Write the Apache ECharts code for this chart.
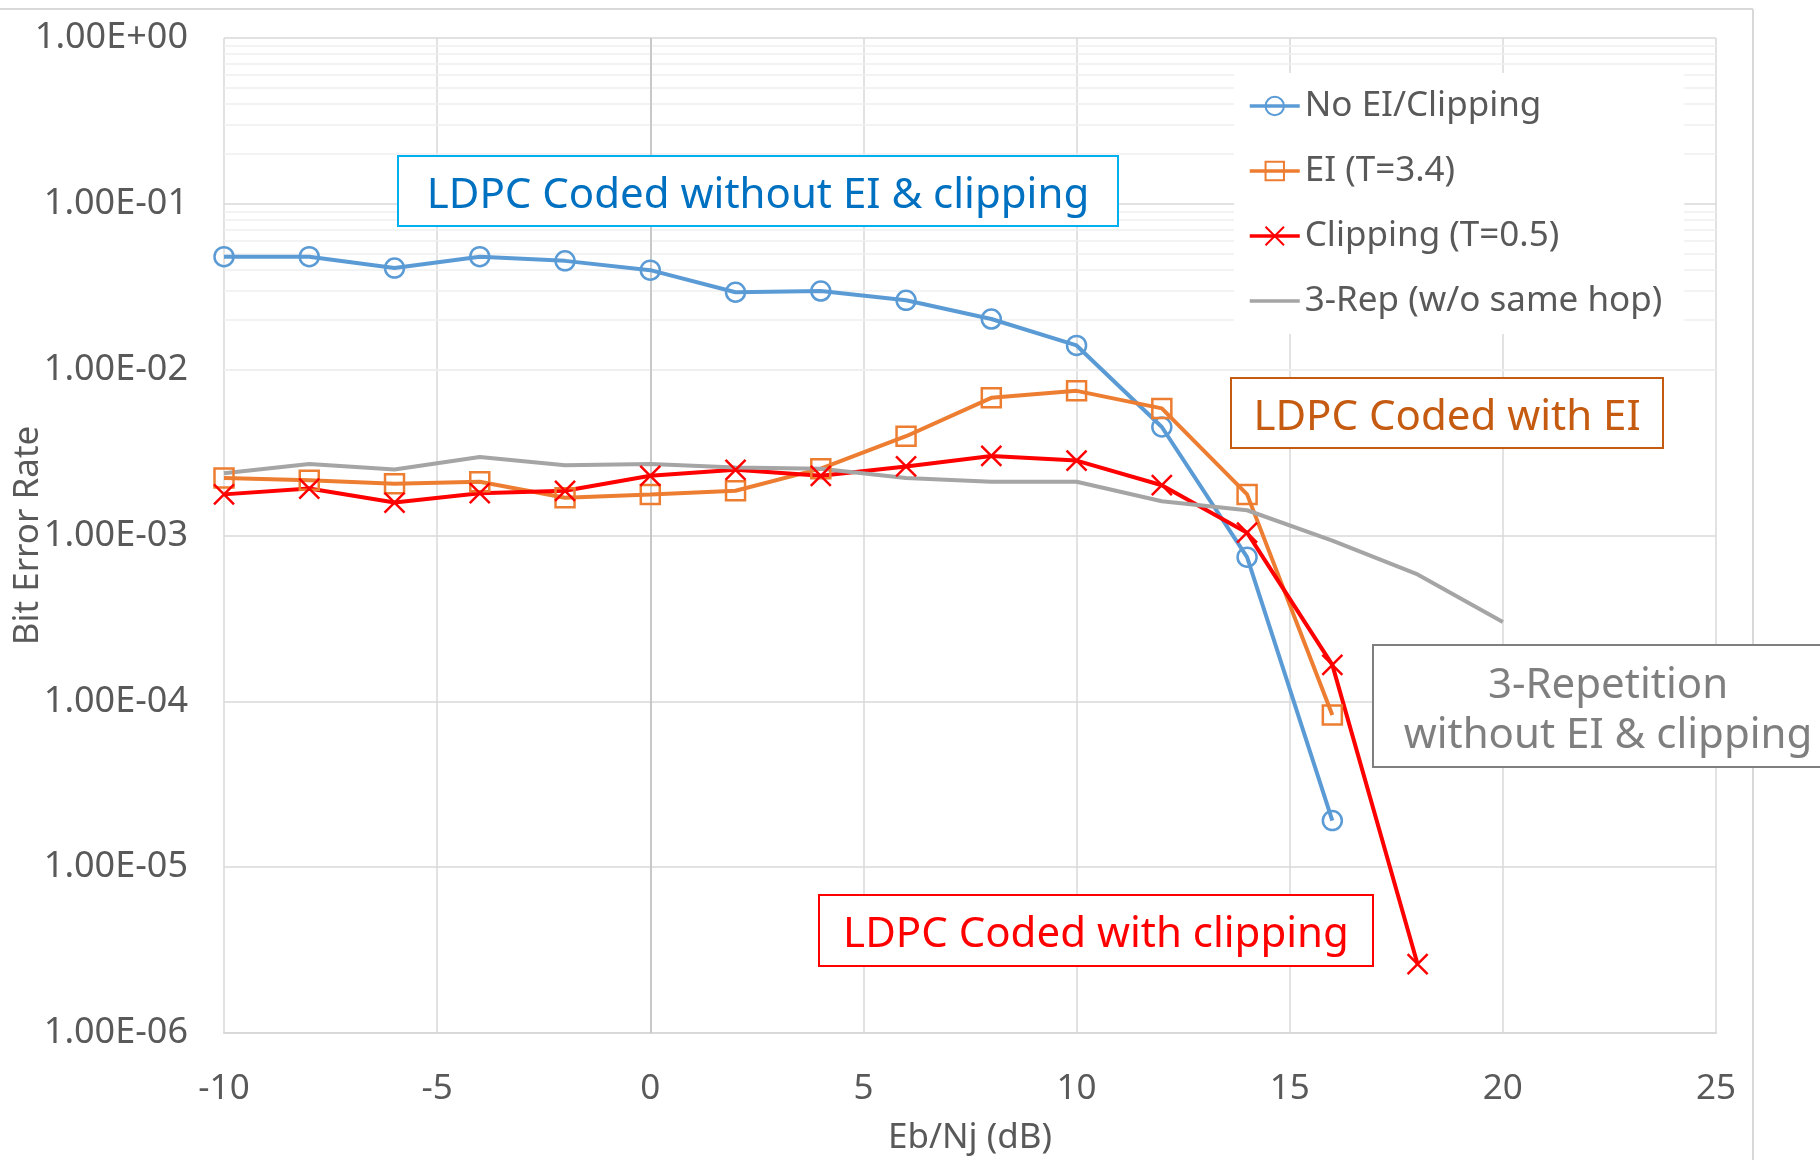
<!DOCTYPE html>
<html>
<head>
<meta charset="utf-8">
<title>BER vs Eb/Nj</title>
<script src="https://cdn.jsdelivr.net/npm/echarts@6/dist/echarts.min.js"></script>
<style>
  html, body { margin: 0; padding: 0; background: #fff; }
  #chart { width: 1820px; height: 1160px; }
</style>
</head>
<body>
<div id="chart"></div>
<script>
// Eb/Nj (dB) sample points
var ebnj = [-10, -8, -6, -4, -2, 0, 2, 4, 6, 8, 10, 12, 14, 16, 18, 20];

// bit error rate
var berNoEI = [0.048, 0.048, 0.041, 0.048, 0.0453, 0.0398, 0.0293, 0.0298, 0.0262, 0.0202, 0.0140, 0.00451, 0.00074, 0.0000191];
var berEI = [0.00222, 0.00215, 0.00205, 0.00211, 0.00169, 0.00177, 0.00186, 0.00253, 0.00397, 0.00676, 0.00745, 0.00584, 0.00177, 0.0000828];
var berClip = [0.00177, 0.00192, 0.00158, 0.0018, 0.00186, 0.00229, 0.00249, 0.00229, 0.00261, 0.00302, 0.00283, 0.00201, 0.00104, 0.000166, 0.0000026];
var berRep = [0.00237, 0.0027, 0.0025, 0.00297, 0.00265, 0.0027, 0.00257, 0.00253, 0.00222, 0.00211, 0.00211, 0.00161, 0.00142, 0.00093, 0.000582, 0.000301];

var seriesNames = ['No EI/Clipping', 'EI (T=3.4)', 'Clipping (T=0.5)', '3-Rep (w/o same hop)'];

var FONT = 'Noto Sans';
var TXT = '#595959';

function pairs(ys) {
    return ys.map(function (y, i) { return [ebnj[i], y]; });
}

// excel style minor gridlines of a log axis (2..9 in each decade)
function minorLines() {
    var out = [];
    for (var e = -6; e < 0; e++) {
        for (var m = 2; m <= 9; m++) {
            out.push({ yAxis: m * Math.pow(10, e) });
        }
    }
    return out;
}

function sciLabel(v) {
    var p = v.toExponential(2).split('e');
    var ex = parseInt(p[1], 10);
    var a = Math.abs(ex);
    return p[0] + 'E' + (ex < 0 ? '-' : '+') + (a < 10 ? '0' : '') + a;
}

function box(x, y, w, h, color, text, textColor) {
    return {
        type: 'group',
        children: [{
            type: 'rect',
            z: 100,
            shape: { x: x, y: y, width: w, height: h },
            style: { fill: '#fff', stroke: color, lineWidth: 2 }
        }, {
            type: 'text',
            z: 101,
            style: {
                x: x + w / 2, y: y + h / 2 + 5,
                text: text,
                fill: textColor,
                font: '42px "Noto Sans"',
                lineHeight: 50,
                align: 'center',
                verticalAlign: 'middle'
            }
        }]
    };
}

var chart = echarts.init(document.getElementById('chart'));

var option = {
    animation: false,
    backgroundColor: '#fff',
    textStyle: { fontFamily: FONT },
    grid: { left: 224, right: 104, top: 38, bottom: 127, containLabel: false, outerBoundsMode: 'none' },
    legend: {
        data: seriesNames,
        orient: 'vertical',
        left: 1234,
        top: 73,
        z: 10,
        padding: [13, 22, 13, 14],
        backgroundColor: '#fff',
        itemWidth: 50,
        itemHeight: 23,
        itemGap: 25,
        lineStyle: { width: 3.5 },
        textStyle: { fontFamily: FONT, fontSize: 35, color: TXT, lineHeight: 40 }
    },
    xAxis: {
        type: 'value',
        min: -10,
        max: 25,
        interval: 5,
        name: 'Eb/Nj (dB)',
        nameLocation: 'middle',
        nameGap: 88,
        nameMoveOverlap: false,
        nameTextStyle: { fontFamily: FONT, fontSize: 35, color: TXT },
        axisLine: { lineStyle: { color: '#D9D9D9', width: 2 } },
        axisTick: { show: false },
        axisLabel: { fontFamily: FONT, fontSize: 35, color: TXT, margin: 39 },
        splitLine: { show: true, lineStyle: { color: '#D9D9D9', width: 1.5 } }
    },
    yAxis: {
        type: 'log',
        logBase: 10,
        min: 1e-6,
        max: 1,
        name: 'Bit Error Rate',
        nameLocation: 'middle',
        nameRotate: 90,
        nameGap: 178,
        nameMoveOverlap: false,
        nameTextStyle: { fontFamily: FONT, fontSize: 35, color: TXT },
        axisLine: { show: false },
        axisTick: { show: false },
        axisLabel: { fontFamily: FONT, fontSize: 36, color: TXT, margin: 36, formatter: sciLabel },
        splitLine: { show: true, lineStyle: { color: '#D9D9D9', width: 1.5 } }
    },
    series: [{
        name: 'grid-minor',
        type: 'line',
        data: [],
        z: 1,
        silent: true,
        markLine: {
            z: 1,
            silent: true,
            symbol: ['none', 'none'],
            label: { show: false },
            lineStyle: { color: '#EFEFEF', width: 1.5, type: 'solid' },
            data: minorLines().concat([{ xAxis: 0, lineStyle: { color: '#BFBFBF' } }])
        }
    }, {
        name: seriesNames[0],
        type: 'line',
        z: 3,
        data: pairs(berNoEI),
        color: '#5B9BD5',
        symbol: 'circle',
        symbolSize: 19,
        itemStyle: { color: 'rgba(255,255,255,0)', borderColor: '#5B9BD5', borderWidth: 2.5 },
        lineStyle: { color: '#5B9BD5', width: 4 }
    }, {
        name: seriesNames[1],
        type: 'line',
        z: 3,
        data: pairs(berEI),
        color: '#ED7D31',
        symbol: 'rect',
        symbolSize: 19,
        itemStyle: { color: 'rgba(255,255,255,0)', borderColor: '#ED7D31', borderWidth: 2.5 },
        lineStyle: { color: '#ED7D31', width: 4 }
    }, {
        name: seriesNames[2],
        type: 'line',
        z: 3,
        data: pairs(berClip),
        color: '#FF0000',
        symbol: 'path://M0,0L20,20M20,0L0,20',
        symbolSize: 20,
        itemStyle: { color: '#FF0000', borderColor: '#FF0000', borderWidth: 2.5 },
        lineStyle: { color: '#FF0000', width: 4 }
    }, {
        name: seriesNames[3],
        type: 'line',
        z: 3,
        data: pairs(berRep),
        color: '#A5A5A5',
        symbol: 'none',
        itemStyle: { color: 'rgba(255,255,255,0)', opacity: 0 },
        lineStyle: { color: '#A5A5A5', width: 4 }
    }],
    graphic: [
        // chart area border
        { type: 'line', z: 100, shape: { x1: 0, y1: 9, x2: 1753, y2: 9 }, style: { stroke: '#D9D9D9', lineWidth: 2 } },
        { type: 'line', z: 100, shape: { x1: 1753, y1: 9, x2: 1753, y2: 1160 }, style: { stroke: '#D9D9D9', lineWidth: 2 } },
        box(398, 156, 720, 70, '#00B0F0', 'LDPC Coded without EI & clipping', '#0070C0'),
        box(1231, 378, 432, 70, '#C55A11', 'LDPC Coded with EI', '#C55A11'),
        box(1373, 645, 470, 122, '#7F7F7F', '3-Repetition\nwithout EI & clipping', '#7F7F7F'),
        box(819, 895, 554, 71, '#FF0000', 'LDPC Coded with clipping', '#FF0000')
    ]
};

chart.setOption(option);
</script>
</body>
</html>
